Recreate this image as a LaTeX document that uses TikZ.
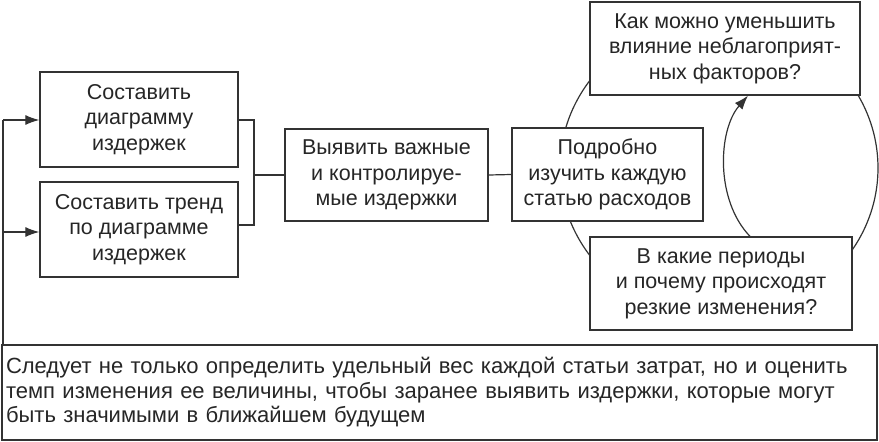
\documentclass[tikz,border=0pt]{standalone}
\usepackage{fontspec}
\setmainfont{Liberation Sans}
\usetikzlibrary{arrows.meta}
\begin{document}
\begin{tikzpicture}[x=1pt,y=1pt,
  box/.style={draw=black!80,line width=1.3pt,align=center,text=black!85,font=\fontsize{21.5}{25.5}\selectfont,inner sep=0pt},
  ln/.style={draw=black!80,line width=1.2pt},
  arr/.style={ln,-{Latex[length=14pt,width=10pt]}}]
\useasboundingbox (0,0) rectangle (879,-442);
\node[box,minimum width=198,minimum height=95] (a) at (139,-119.5) {Составить\\диаграмму\\издержек};
\node[box,minimum width=198,minimum height=95] (b) at (139,-229.5) {Составить тренд\\по диаграмме\\издержек};
\node[box,minimum width=203,minimum height=92] (c) at (386.5,-175) {Выявить важные\\и контролируе-\\мые издержки};
\draw[ln] (719,-168) ellipse[x radius=159,y radius=150];
\node[box,fill=white,minimum width=270,minimum height=93] (e) at (725,-48.5) {Как можно уменьшить\\влияние неблагоприят-\\ных факторов?};
\node[box,fill=white,minimum width=262,minimum height=93] (f) at (721,-283.5) {В какие периоды\\и почему происходят\\резкие изменения?};
\node[box,fill=white,minimum width=191,minimum height=93] (d) at (607.5,-174.5) {Подробно\\изучить каждую\\статью расходов};
\node[box,minimum width=875,minimum height=95,align=left,text width=867,font=\fontsize{22}{24.5}\selectfont] (g) at (439.5,-392.5) {Следует не только определить удельный вес каждой статьи затрат, но и оценить\\темп изменения ее величины, чтобы заранее выявить издержки, которые могут\\быть значимыми в ближайшем будущем};
\coordinate (j) at (254,-175);
\draw[ln] (a.east|-0,-120) -| (j) |- (b.east|-0,-225);
\draw[ln] (j) -- (c.west);
\draw[ln] (c.east) -- (d.west);
\coordinate (l) at (3,-120);
\draw[ln] (g.north-|l) -- (l);
\draw[arr] (l) -- (a.west|-l);
\draw[arr] (3,-232) -- (b.west|-0,-232);
\draw[arr] (f.north-|750,0) .. controls (715,-200) and (718,-130) .. (e.south-|748,0);
\end{tikzpicture}
\end{document}
